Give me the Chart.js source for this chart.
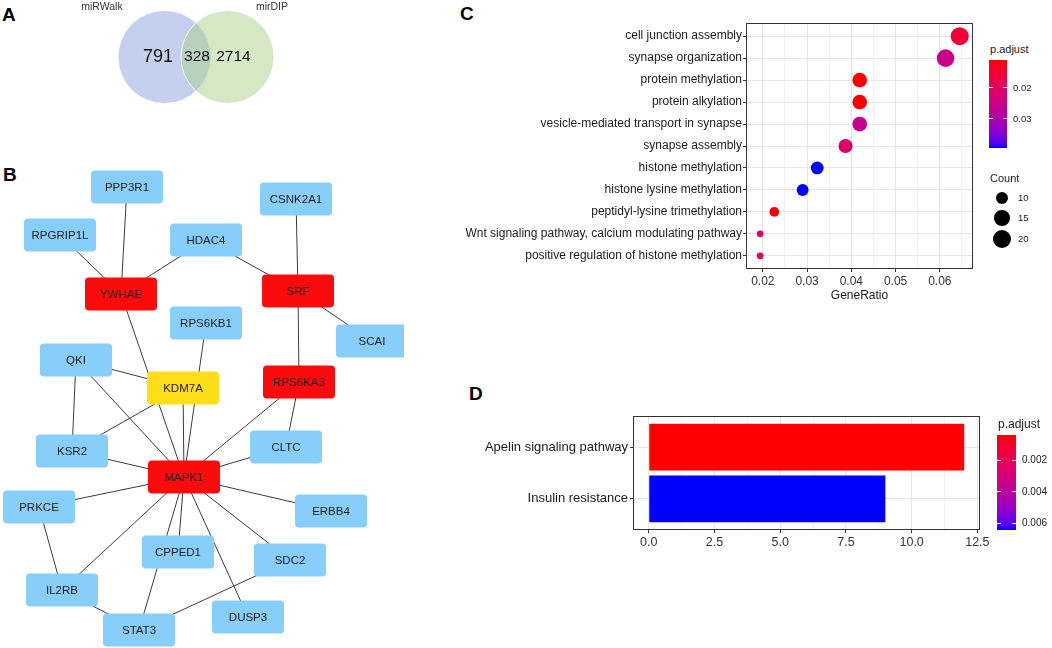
<!DOCTYPE html>
<html><head><meta charset="utf-8">
<script src="https://cdn.jsdelivr.net/npm/chart.js@4.4.0/dist/chart.umd.min.js"></script>
<style>
html,body{margin:0;padding:0;background:#fff;width:1052px;height:648px;overflow:hidden;font-family:"Liberation Sans",Arial,Helvetica,sans-serif;}
canvas{position:absolute;}
.letter{position:absolute;font-weight:bold;font-size:19px;line-height:19px;color:#000;}
.lg{position:absolute;color:#1a1a1a;white-space:nowrap;}
</style></head><body>
<div class="letter" style="left:2px;top:5px">A</div>
<div class="letter" style="left:3px;top:165px">B</div>
<div class="letter" style="left:460px;top:4px">C</div>
<div class="letter" style="left:469px;top:384px">D</div>
<canvas id="cA" width="300" height="114" style="left:0;top:0"></canvas>
<canvas id="cB" width="404" height="488" style="left:0;top:160px"></canvas>
<canvas id="cC" width="560" height="310" style="left:430px;top:0"></canvas>
<canvas id="cD" width="570" height="160" style="left:440px;top:400px"></canvas>
<div id="legends"></div>
<script>
// ---------------- DATA ----------------
// A: Venn diagram
const vennSets = ['miRWalk', 'mirDIP'];
const vennRegionCounts = [791, 328, 2714]; // miRWalk only, both, mirDIP only

// B: PPI network
const netNodes = ['PPP3R1','RPGRIP1L','HDAC4','CSNK2A1','YWHAE','SRF','RPS6KB1','SCAI','QKI','KDM7A','RPS6KA3','KSR2','CLTC','MAPK1','PRKCE','ERBB4','CPPED1','SDC2','IL2RB','DUSP3','STAT3'];
const netHubs = ['YWHAE','SRF','RPS6KA3','MAPK1'];
const netCore = ['KDM7A'];
const netEdges = [
  ['PPP3R1','YWHAE'],['RPGRIP1L','YWHAE'],['HDAC4','YWHAE'],['HDAC4','SRF'],['CSNK2A1','SRF'],['SRF','SCAI'],['SRF','RPS6KA3'],
  ['YWHAE','MAPK1'],['RPS6KB1','MAPK1'],['KDM7A','MAPK1'],['QKI','KDM7A'],['QKI','KSR2'],['QKI','MAPK1'],['KDM7A','KSR2'],['KSR2','MAPK1'],
  ['RPS6KA3','MAPK1'],['RPS6KA3','CLTC'],['CLTC','MAPK1'],['PRKCE','MAPK1'],['ERBB4','MAPK1'],['IL2RB','MAPK1'],['CPPED1','MAPK1'],['STAT3','MAPK1'],
  ['DUSP3','MAPK1'],['SDC2','MAPK1'],['PRKCE','IL2RB'],['IL2RB','STAT3'],['SDC2','STAT3']
];

// C: GO enrichment dot plot
const goTerms = ['cell junction assembly','synapse organization','protein methylation','protein alkylation','vesicle-mediated transport in synapse','synapse assembly','histone methylation','histone lysine methylation','peptidyl-lysine trimethylation','Wnt signaling pathway, calcium modulating pathway','positive regulation of histone methylation'];
const goGeneRatio = [0.0645,0.0613,0.0419,0.0419,0.0419,0.0387,0.0323,0.0290,0.0226,0.0194,0.0194];
const goCount = [20,19,13,13,13,12,10,9,7,6,6];
const goPAdjust = [0.0150,0.0252,0.0110,0.0110,0.0262,0.0212,0.0394,0.0394,0.0112,0.0205,0.0205];
const goXTicks = [0.02,0.03,0.04,0.05,0.06];
const goPBreaks = [0.02,0.03];
const goCountBreaks = [10,15,20];

// D: KEGG bar chart
const keggTerms = ['Apelin signaling pathway','Insulin resistance'];
const keggCount = [12, 9];
const keggPAdjust = [0.00041, 0.00644];
const keggXTicks = [0,2.5,5,7.5,10,12.5];
const keggPBreaks = [0.002,0.004,0.006];

// ---------------- LAYOUT (not data) ----------------
const netLayout = {
  PPP3R1:[127,187], RPGRIP1L:[60,235], HDAC4:[206,240], CSNK2A1:[296,199], YWHAE:[121,294], SRF:[298,291],
  RPS6KB1:[206,323], SCAI:[372,341], QKI:[76,360], KDM7A:[183,388], RPS6KA3:[299,382], KSR2:[72,451],
  CLTC:[286,447], MAPK1:[184,477], PRKCE:[39,507], ERBB4:[331,511], CPPED1:[178,552], SDC2:[290,560],
  IL2RB:[62,590], DUSP3:[248,617], STAT3:[139,630]
};

const FONT = '"Liberation Sans", Arial, Helvetica, sans-serif';
Chart.defaults.font.family = FONT;
Chart.defaults.animation = false;
Chart.defaults.events = [];
Chart.defaults.layout.autoPadding = false;
Chart.defaults.plugins.legend.display = false;
Chart.defaults.plugins.tooltip.enabled = false;

// ---------- colour scale (ggplot-like Lab interpolation red -> blue) ----------
function rgb2lab([r,g,b]){
  const lin=c=>{c/=255;return c<=0.04045?c/12.92:Math.pow((c+0.055)/1.055,2.4);};
  const R=lin(r),G=lin(g),B=lin(b);
  const X=(0.4124564*R+0.3575761*G+0.1804375*B)/0.95047;
  const Y=(0.2126729*R+0.7151522*G+0.0721750*B);
  const Z=(0.0193339*R+0.1191920*G+0.9503041*B)/1.08883;
  const f=t=>t>0.008856?Math.cbrt(t):7.787*t+16/116;
  const fx=f(X),fy=f(Y),fz=f(Z);
  return [116*fy-16,500*(fx-fy),200*(fy-fz)];
}
function lab2rgb([L,a,b]){
  const fy=(L+16)/116, fx=fy+a/500, fz=fy-b/200;
  const finv=t=>t*t*t>0.008856?t*t*t:(t-16/116)/7.787;
  const X=finv(fx)*0.95047, Y=finv(fy), Z=finv(fz)*1.08883;
  const R= 3.2404542*X-1.5371385*Y-0.4985314*Z;
  const G=-0.9692660*X+1.8760108*Y+0.0415560*Z;
  const B= 0.0556434*X-0.2040259*Y+1.0572252*Z;
  const g=c=>{c=c<=0.0031308?12.92*c:1.055*Math.pow(c,1/2.4)-0.055;return Math.round(Math.max(0,Math.min(1,c))*255);};
  return [g(R),g(G),g(B)];
}
const LAB_LOW = rgb2lab([255,0,0]), LAB_HIGH = rgb2lab([0,0,255]);
function gradColor(t){
  t=Math.max(0,Math.min(1,t));
  const c=lab2rgb(LAB_LOW.map((v,i)=>v+(LAB_HIGH[i]-v)*t));
  return `rgb(${c[0]},${c[1]},${c[2]})`;
}
function pColor(p, arr){ const mn=Math.min(...arr), mx=Math.max(...arr); return gradColor((p-mn)/(mx-mn)); }

// size scale (ggplot area scale)
function countToRadius(c){
  const mn=Math.min(...goCount), mx=Math.max(...goCount);
  const size = 1 + 5*Math.sqrt(Math.max(0,(c-mn)/(mx-mn)));
  return 1.13*size + 2.22;
}

const borderPlugin = {id:'panelBorder', afterDraw(chart){
  const a=chart.chartArea, c=chart.ctx;
  c.save(); c.strokeStyle='#333'; c.lineWidth=1;
  c.strokeRect(Math.round(a.left)+0.5, Math.round(a.top)+0.5, Math.round(a.right-a.left)-1, Math.round(a.bottom-a.top)-1);
  c.restore();
}};

// ---------------- A: Venn ----------------
const vennTextPlugin = {id:'vennText', afterDatasetsDraw(chart){
  const {ctx, scales:{x,y}} = chart;
  const c0=x.getPixelForValue(0), c1=x.getPixelForValue(1), cy=y.getPixelForValue(0);
  ctx.save(); ctx.fillStyle='#111'; ctx.textAlign='center'; ctx.textBaseline='middle';
  ctx.font='18px '+FONT; ctx.fillText(String(vennRegionCounts[0]), c0-6.5, cy);
  ctx.font='15.5px '+FONT; ctx.fillText(String(vennRegionCounts[1]), (c0+c1)/2+1, cy);
  ctx.fillText(String(vennRegionCounts[2]), c1+6, cy);
  ctx.fillStyle='#333'; ctx.font='10.5px '+FONT;
  ctx.fillText(vennSets[0], c0-62.5, cy-50);
  ctx.fillText(vennSets[1], c1+44.5, cy-50);
  ctx.restore();
}};
new Chart(document.getElementById('cA'), {
  type:'scatter',
  data:{datasets:[{data: vennSets.map((s,i)=>({x:i,y:0})), pointRadius:46.5, clip:false,
    pointBackgroundColor:['rgb(197,208,238)','rgba(171,209,139,0.5)'],
    pointBorderColor:'rgba(255,255,255,0.85)', pointBorderWidth:1}]},
  options:{responsive:false, layout:{padding:0, autoPadding:false},
    scales:{x:{type:'linear',min:-2.611,max:2.151,display:false}, y:{type:'linear',min:-1,max:1,display:false}}},
  plugins:[vennTextPlugin]
});

// ---------------- B: Network ----------------
function nodeFill(n){ return netHubs.includes(n)?'#fb0b0b':(netCore.includes(n)?'#ffdd18':'#87cefa'); }
const nodePlugin = {id:'nodes', afterDatasetsDraw(chart){
  const {ctx, scales:{x,y}} = chart;
  ctx.save();
  netNodes.forEach(n=>{
    const px=x.getPixelForValue(netLayout[n][0]), py=y.getPixelForValue(netLayout[n][1]);
    const w=72,h=33;
    ctx.beginPath(); ctx.roundRect(px-w/2,py-h/2,w,h,4);
    ctx.fillStyle=nodeFill(n); ctx.fill();
    ctx.fillStyle='#1a1a1a'; ctx.font='11.5px '+FONT; ctx.textAlign='center'; ctx.textBaseline='middle';
    ctx.fillText(n,px,py+0.5);
  });
  ctx.restore();
}};
const pt = n => ({x:netLayout[n][0], y:netLayout[n][1]});
new Chart(document.getElementById('cB'), {
  type:'scatter',
  data:{datasets:[
    ...netEdges.map(([a,b])=>({data:[pt(a),pt(b)], showLine:true, borderColor:'#3a3a3a', borderWidth:1, pointRadius:0})),
    {data: netNodes.map(pt), pointRadius:0}
  ]},
  options:{responsive:false, layout:{padding:0, autoPadding:false},
    scales:{x:{type:'linear',min:0,max:404,display:false}, y:{type:'linear',min:160,max:648,reverse:true,display:false}}},
  plugins:[nodePlugin]
});

// ---------------- C: GO dot plot ----------------
const goXGrid = []; for(let k=0;k<10;k++) goXGrid.push(+(0.02+k*0.005).toFixed(3));
const isMajorC = v => goXTicks.some(t=>Math.abs(t-v)<1e-9);
new Chart(document.getElementById('cC'), {
  type:'scatter',
  data:{datasets:[{
    data: goTerms.map((t,i)=>({x:goGeneRatio[i], y:i+1})),
    pointRadius: goCount.map(countToRadius),
    pointBackgroundColor: goPAdjust.map(p=>pColor(p,goPAdjust)),
    pointBorderWidth:0
  }]},
  options:{responsive:false, layout:{padding:{left:0,top:23,right:17,bottom:0}, autoPadding:false},
    scales:{
      x:{type:'linear', min:0.0162, max:0.0675,
        afterBuildTicks:s=>{s.ticks=goXGrid.map(v=>({value:v}));},
        afterFit:s=>{s.height=41;},
        ticks:{autoSkip:false, maxRotation:0, padding:2, color:'#333', font:{size:12}, callback:v=>isMajorC(v)?v.toFixed(2):''},
        grid:{color:c=>isMajorC(c.tick.value)?'#e6e6e6':'#f1f1f1', tickLength:3, tickColor:c=>isMajorC(c.tick.value)?'#333':'rgba(0,0,0,0)'},
        border:{display:false},
        title:{display:true, text:'GeneRatio', color:'#1a1a1a', font:{size:12}, padding:{top:0,bottom:7}}
      },
      y:{type:'linear', min:0.4, max:11.6, reverse:true,
        afterBuildTicks:s=>{s.ticks=goTerms.map((t,i)=>({value:i+1}));},
        afterFit:s=>{s.width=316;},
        ticks:{autoSkip:false, padding:1, color:'#1a1a1a', font:{size:12}, callback:v=>goTerms[Math.round(v)-1]},
        grid:{color:'#e6e6e6', tickLength:3, tickColor:'#333'},
        border:{display:false}
      }
    }},
  plugins:[borderPlugin]
});

// ---------------- D: KEGG bars ----------------
const keggXGrid = []; for(let k=0;k<=10;k++) keggXGrid.push(k*1.25);
const isMajorD = v => keggXTicks.some(t=>Math.abs(t-v)<1e-9);
new Chart(document.getElementById('cD'), {
  type:'bar',
  data:{datasets:[{
    data: keggTerms.map((t,i)=>({x:keggCount[i], y:i+1})),
    backgroundColor: keggPAdjust.map(p=>pColor(p,keggPAdjust)),
    borderWidth:0, categoryPercentage:0.9, barPercentage:1
  }]},
  options:{responsive:false, indexAxis:'y', layout:{padding:{left:0,top:16,right:30,bottom:0}, autoPadding:false},
    scales:{
      x:{type:'linear', min:-0.6, max:12.6, offset:false,
        afterBuildTicks:s=>{s.ticks=keggXGrid.map(v=>({value:v}));},
        afterFit:s=>{s.height=30;},
        ticks:{autoSkip:false, maxRotation:0, padding:2, color:'#333', font:{size:12.5}, callback:v=>isMajorD(v)?v.toFixed(1):''},
        grid:{offset:false, color:c=>isMajorD(c.tick.value)?'#e6e6e6':'#f1f1f1', tickLength:3, tickColor:c=>isMajorD(c.tick.value)?'#333':'rgba(0,0,0,0)'},
        border:{display:false}
      },
      y:{type:'linear', min:0.4, max:2.6, reverse:true, offset:false,
        afterBuildTicks:s=>{s.ticks=keggTerms.map((t,i)=>({value:i+1}));},
        afterFit:s=>{s.width=193;},
        ticks:{autoSkip:false, padding:2, color:'#1a1a1a', font:{size:13}, callback:v=>keggTerms[Math.round(v)-1]},
        grid:{offset:false, color:'#e6e6e6', tickLength:3, tickColor:'#333'},
        border:{display:false}
      }
    }},
  plugins:[borderPlugin]
});

// ---------------- Legends (HTML) ----------------
const L = document.getElementById('legends');
function addText(txt, left, cy, size){
  const d=document.createElement('div'); d.className='lg';
  d.style.left=left+'px'; d.style.top=(cy-size*0.6)+'px'; d.style.fontSize=size+'px'; d.style.lineHeight=(size*1.2)+'px';
  d.textContent=txt; L.appendChild(d);
}
function addBox(left, top, w, h, bg, radius){
  const d=document.createElement('div'); d.style.position='absolute';
  d.style.left=left+'px'; d.style.top=top+'px'; d.style.width=w+'px'; d.style.height=h+'px'; d.style.background=bg;
  if(radius) d.style.borderRadius='50%';
  L.appendChild(d); return d;
}
function colorbar(pvals, breaks, decimals, left, top, w, h, labelSize, titleSize, titleCy){
  addText('p.adjust', left+1, titleCy, titleSize);
  const stops=[]; for(let k=0;k<=20;k++) stops.push(gradColor(k/20)+' '+(k*5)+'%');
  addBox(left, top, w, h, 'linear-gradient(to bottom,'+stops.join(',')+')');
  const mn=Math.min(...pvals), mx=Math.max(...pvals);
  breaks.forEach(b=>{
    const yy = top + (b-mn)/(mx-mn)*h;
    addBox(left, yy-0.5, w/5, 1, '#fff');
    addBox(left+w-w/5, yy-0.5, w/5, 1, '#fff');
    addText(b.toFixed(decimals), left+w+6, yy, labelSize);
  });
}
colorbar(goPAdjust, goPBreaks, 2, 989, 60, 18, 88, 9.5, 11, 50);
addText('Count', 990, 179, 11);
goCountBreaks.forEach((c,i)=>{
  const cy=[198,218,239][i], r=countToRadius(c);
  addBox(1002-r, cy-r, 2*r, 2*r, '#000', true);
  addText(String(c), 1018, cy, 9.5);
});
colorbar(keggPAdjust, keggPBreaks, 3, 997, 435, 19, 95, 10, 12, 424);
</script>
</body></html>
